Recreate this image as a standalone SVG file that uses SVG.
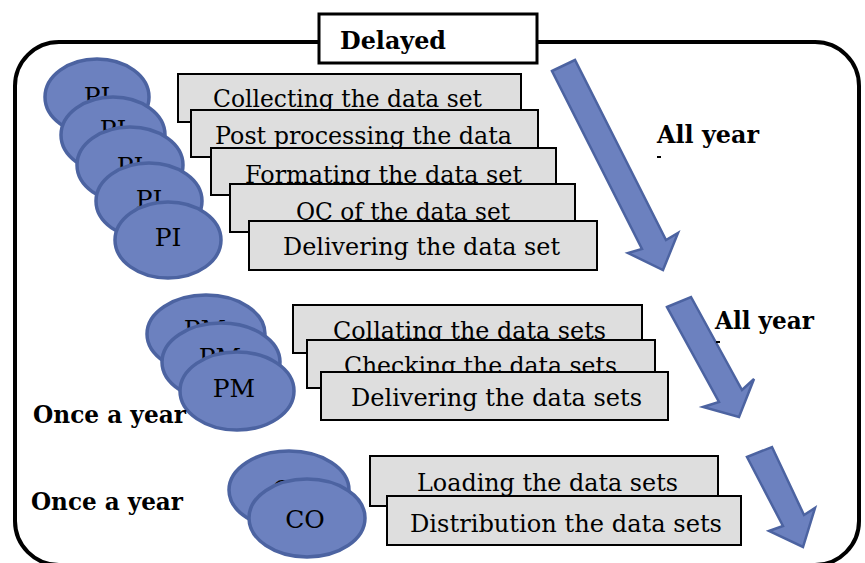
<svg xmlns="http://www.w3.org/2000/svg" width="865" height="563" viewBox="0 0 865 563">
<style>
.frame{fill:#fff;stroke:#000;stroke-width:4}
.tag{fill:#fff;stroke:#000;stroke-width:3}
.ell{fill:#6c81bf;stroke:#4c63a1;stroke-width:3.5}
.box{fill:#dedede;stroke:#000;stroke-width:2}
.arr{fill:#6c81bf;stroke:#4c63a1;stroke-width:2.5;stroke-linejoin:miter}
.t{font-family:"DejaVu Serif","Liberation Serif",serif;font-size:25px;fill:#000}
.c{text-anchor:middle}
.b{font-family:"DejaVu Serif","Liberation Serif",serif;font-size:25px;font-weight:bold;fill:#000}
</style>
<rect class="frame" x="15" y="42" width="844" height="523" rx="44"/>
<g id="delayed">
<rect class="tag" x="319" y="14" width="218" height="49"/>
<text class="b" x="340" y="49" textLength="106" lengthAdjust="spacingAndGlyphs">Delayed</text>
</g>
<g id="pi-nodes">
<g id="pi1"><ellipse class="ell" cx="97" cy="97" rx="52" ry="38"/><text class="t c" x="97" y="105">PI</text></g>
<g id="pi2"><ellipse class="ell" cx="113" cy="135" rx="52" ry="38"/><text class="t c" x="113" y="138">PI</text></g>
<g id="pi3"><ellipse class="ell" cx="130" cy="165" rx="53" ry="38"/><text class="t c" x="130" y="175">PI</text></g>
<g id="pi4"><ellipse class="ell" cx="149" cy="201" rx="53" ry="38"/><text class="t c" x="149" y="208">PI</text></g>
<g id="pi5"><ellipse class="ell" cx="168" cy="240" rx="53" ry="38"/><text class="t c" x="168" y="246">PI</text></g>
</g>
<g id="pi-tasks">
<g id="collecting"><rect class="box" x="178" y="74" width="343" height="48"/><text class="t" x="213" y="107" textLength="269" lengthAdjust="spacingAndGlyphs">Collecting the data set</text></g>
<g id="post"><rect class="box" x="191" y="110" width="347" height="47"/><text class="t" x="215" y="144" textLength="297" lengthAdjust="spacingAndGlyphs">Post processing the data</text></g>
<g id="formating"><rect class="box" x="211" y="148" width="345" height="47"/><text class="t" x="245" y="183" textLength="277" lengthAdjust="spacingAndGlyphs">Formating the data set</text></g>
<g id="qc"><rect class="box" x="230" y="184" width="345" height="48"/><text class="t" x="296" y="220" textLength="214" lengthAdjust="spacingAndGlyphs">QC of the data set</text></g>
<g id="delivering1"><rect class="box" x="249" y="221" width="348" height="49"/><text class="t" x="283" y="255" textLength="277" lengthAdjust="spacingAndGlyphs">Delivering the data set</text></g>
</g>
<g id="pm-nodes">
<g id="pm1"><ellipse class="ell" cx="206" cy="334" rx="59" ry="39"/><text class="t c" x="205" y="338">PM</text></g>
<g id="pm2"><ellipse class="ell" cx="221" cy="362" rx="59" ry="39"/><text class="t c" x="220" y="366">PM</text></g>
<g id="pm3"><ellipse class="ell" cx="237" cy="391" rx="57" ry="39"/><text class="t c" x="234" y="397">PM</text></g>
</g>
<g id="pm-tasks">
<g id="collating"><rect class="box" x="293" y="305" width="349" height="48"/><text class="t" x="333" y="339" textLength="273" lengthAdjust="spacingAndGlyphs">Collating the data sets</text></g>
<g id="checking"><rect class="box" x="307" y="340" width="348" height="48"/><text class="t" x="344" y="374" textLength="273" lengthAdjust="spacingAndGlyphs">Checking the data sets</text></g>
<g id="delivering2"><rect class="box" x="321" y="372" width="347" height="48"/><text class="t" x="351" y="406" textLength="291" lengthAdjust="spacingAndGlyphs">Delivering the data sets</text></g>
</g>
<g id="co-nodes">
<g id="co1"><ellipse class="ell" cx="289" cy="490" rx="60" ry="39"/><text class="t c" x="292" y="498">CO</text></g>
<g id="co2"><ellipse class="ell" cx="307" cy="518" rx="58" ry="39"/><text class="t c" x="305" y="528">CO</text></g>
</g>
<g id="co-tasks">
<g id="loading"><rect class="box" x="370" y="456" width="348" height="50"/><text class="t" x="417" y="491" textLength="261" lengthAdjust="spacingAndGlyphs">Loading the data sets</text></g>
<g id="distribution"><rect class="box" x="387" y="496" width="354" height="49"/><text class="t" x="410" y="532" textLength="312" lengthAdjust="spacingAndGlyphs">Distribution the data sets</text></g>
</g>
<g id="connectors">
<polygon class="arr" points="552,71 575,60 666,240 678,233 663,270 628,253 642,249"/>
<polygon class="arr" points="667,307 691,297 742,390 754,379 739,417 703,407 719,402"/>
<polygon class="arr" points="747,457 772,447 804,515 815,508 803,547 769,531 783,526"/>
</g>
<g id="labels">
<text class="b" x="657" y="143" textLength="102" lengthAdjust="spacingAndGlyphs">All year</text>
<rect x="657" y="156" width="4" height="2" fill="#000"/>
<text class="b" x="715" y="329" textLength="99" lengthAdjust="spacingAndGlyphs">All year</text>
<rect x="716" y="341" width="4" height="2" fill="#000"/>
<text class="b" x="33" y="423" textLength="153" lengthAdjust="spacingAndGlyphs">Once a year</text>
<text class="b" x="31" y="510" textLength="152" lengthAdjust="spacingAndGlyphs">Once a year</text>
</g>
</svg>
